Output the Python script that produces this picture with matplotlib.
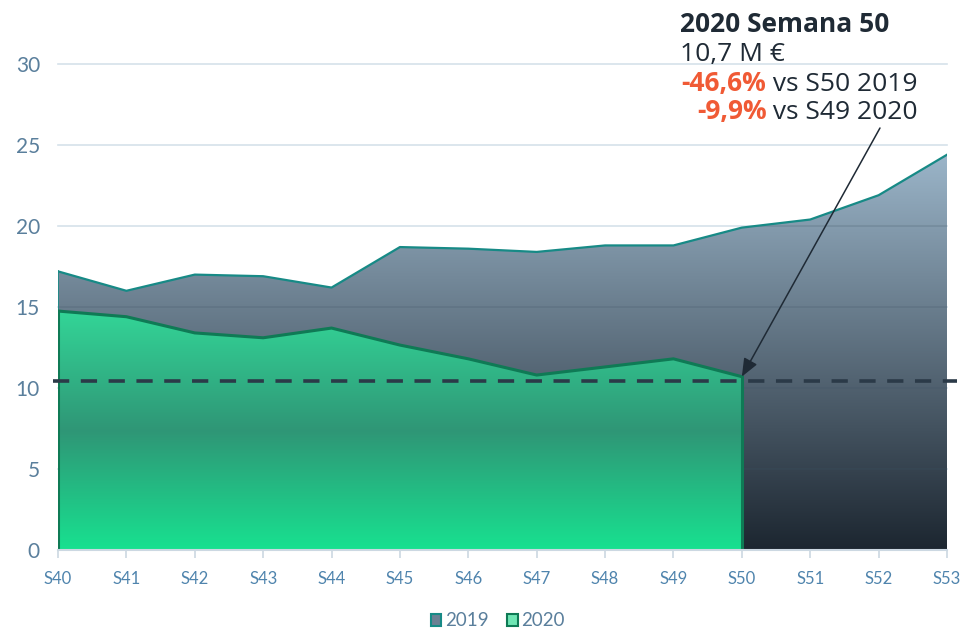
import matplotlib
matplotlib.use("Agg")
import matplotlib.pyplot as plt
import numpy as np
from matplotlib.colors import LinearSegmentedColormap
from matplotlib.patches import Patch

weeks = ["S40", "S41", "S42", "S43", "S44", "S45", "S46", "S47", "S48", "S49", "S50", "S51", "S52", "S53"]
sales_2019 = [17.2, 16.0, 17.0, 16.9, 16.2, 18.7, 18.6, 18.4, 18.8, 18.8, 19.9, 20.4, 21.9, 24.4]
sales_2020 = [14.75, 14.4, 13.4, 13.1, 13.7, 12.65, 11.8, 10.8, 11.3, 11.8, 10.7]
reference_level = 10.45
yticks = [0, 5, 10, 15, 20, 25, 30]

fig = plt.figure(figsize=(9.69, 6.29), dpi=100)
ax = fig.add_axes([58/969, 1-550/629, (947-58)/969, (550-64)/629])

x19 = np.arange(len(sales_2019))
x20 = np.arange(len(sales_2020))

def gradient_fill(x, y, colors, stops, z):
    poly = ax.fill_between(x, 0, y, facecolor="none", edgecolor="none", zorder=z)
    cmap = LinearSegmentedColormap.from_list("g", list(zip(stops, colors)))
    ymax = max(y)
    grad = np.linspace(1, 0, 256).reshape(-1, 1)
    im = ax.imshow(grad, cmap=cmap, aspect="auto", extent=[x[0], x[-1], 0, ymax],
                   origin="upper", zorder=z, interpolation="bilinear")
    path = poly.get_paths()[0]
    im.set_clip_path(path, transform=ax.transData)
    return path

# 2019 area
path19 = gradient_fill(x19, sales_2019, ["#1c2630", "#9bb5c9"], [0, 1], 1)
ax.plot(x19, sales_2019, color="#178a86", lw=1.6, zorder=3)
ax.plot([x19[0], x19[0]], [0, sales_2019[0]], color="#178a86", lw=1.2, zorder=3)

# 2020 area
gradient_fill(x20, sales_2020, ["#18e190", "#2f9676", "#33d597"], [0, 0.5, 1], 2)
ax.plot(x20, sales_2020, color="#0f7a55", lw=2.2, zorder=4)
ax.plot([x20[0], x20[0]], [0, sales_2020[0]], color="#0f7a55", lw=2.2, zorder=4)
ax.plot([x20[-1], x20[-1]], [0, sales_2020[-1]], color="#0f7a55", lw=2.2, zorder=4)

# grid
for yv in yticks[1:]:
    ax.plot([x19[0], x19[-1]], [yv, yv], color="#d6e1ea", lw=1.2, zorder=0.5, clip_on=False)
    ln, = ax.plot([x19[0], x19[-1]], [yv, yv], color="#3f5566", lw=1.2, alpha=0.22, zorder=1.5)
    ln.set_clip_path(path19, transform=ax.transData)

# dashed line
ax.plot([-0.08, 13.15], [reference_level, reference_level], color="#2b3a48", lw=2.6,
        dashes=(4.5, 3.2), zorder=5, clip_on=False)

ax.set_xlim(0, 13)
ax.set_ylim(0, 30)
ax.set_xticks(x19)
ax.set_xticklabels(weeks, fontfamily="Lato", fontsize=12, color="#4f84ad")
ax.set_yticks(yticks)
ax.set_yticklabels([str(v) for v in yticks], fontfamily="Lato", fontsize=15, color="#5a7f9c")
ax.tick_params(axis="y", length=0, pad=13)
ax.tick_params(axis="x", length=6, color="#ccd8e2", width=1.2, pad=9)
for s in ["top", "right", "left"]:
    ax.spines[s].set_visible(False)
ax.spines["bottom"].set_color("#ccd8e2")
ax.spines["bottom"].set_linewidth(1.5)
ax.spines["bottom"].set_zorder(6)

# annotation
dark = "#1f2a35"
red = "#f05a35"
fs = 19
ax.text(680/969, 1-32/629, "2020 Semana 50", transform=fig.transFigure, fontfamily="Open Sans",
        fontweight="bold", fontsize=fs, color=dark, ha="left", va="baseline")
ax.text(680/969, 1-61/629, "10,7 M €", transform=fig.transFigure, fontfamily="Open Sans",
        fontsize=fs, color=dark, ha="left", va="baseline")
t3 = ax.text(918/969, 1-91/629, " vs S50 2019", transform=fig.transFigure, fontfamily="Open Sans",
             fontsize=fs, color=dark, ha="right", va="baseline")
t4 = ax.text(918/969, 1-119/629, " vs S49 2020", transform=fig.transFigure, fontfamily="Open Sans",
             fontsize=fs, color=dark, ha="right", va="baseline")
ax.annotate("-46,6%", xy=(0, 0), xycoords=t3, ha="right", va="bottom", fontfamily="Open Sans",
            fontweight="bold", fontsize=fs, color=red, annotation_clip=False)
ax.annotate("-9,9%", xy=(0, 0), xycoords=t4, ha="right", va="bottom", fontfamily="Open Sans",
            fontweight="bold", fontsize=fs, color=red, annotation_clip=False)

ax.annotate("", xy=(10, sales_2020[-1]), xytext=(12.02, 26.05), xycoords="data",
            arrowprops=dict(arrowstyle="-|>,head_length=1.1,head_width=0.45", color="#1f2a35",
                            lw=1.1, shrinkA=0, shrinkB=0),
            annotation_clip=False, zorder=7)

# legend
handles = [Patch(facecolor="#6b8093", edgecolor="#178a86", lw=1.5, label="2019"),
           Patch(facecolor="#6fe6b4", edgecolor="#0f7a55", lw=1.5, label="2020")]
leg = fig.legend(handles=handles, loc="center", bbox_to_anchor=(498/969, 1-621/629), ncol=2,
                 frameon=False, handlelength=0.55, handleheight=0.55, handletextpad=0.2,
                 columnspacing=1.0, prop={"family": "Lato", "size": 13.5})
for t in leg.get_texts():
    t.set_color("#5a7f9c")

fig.savefig("out.png", dpi=100)
